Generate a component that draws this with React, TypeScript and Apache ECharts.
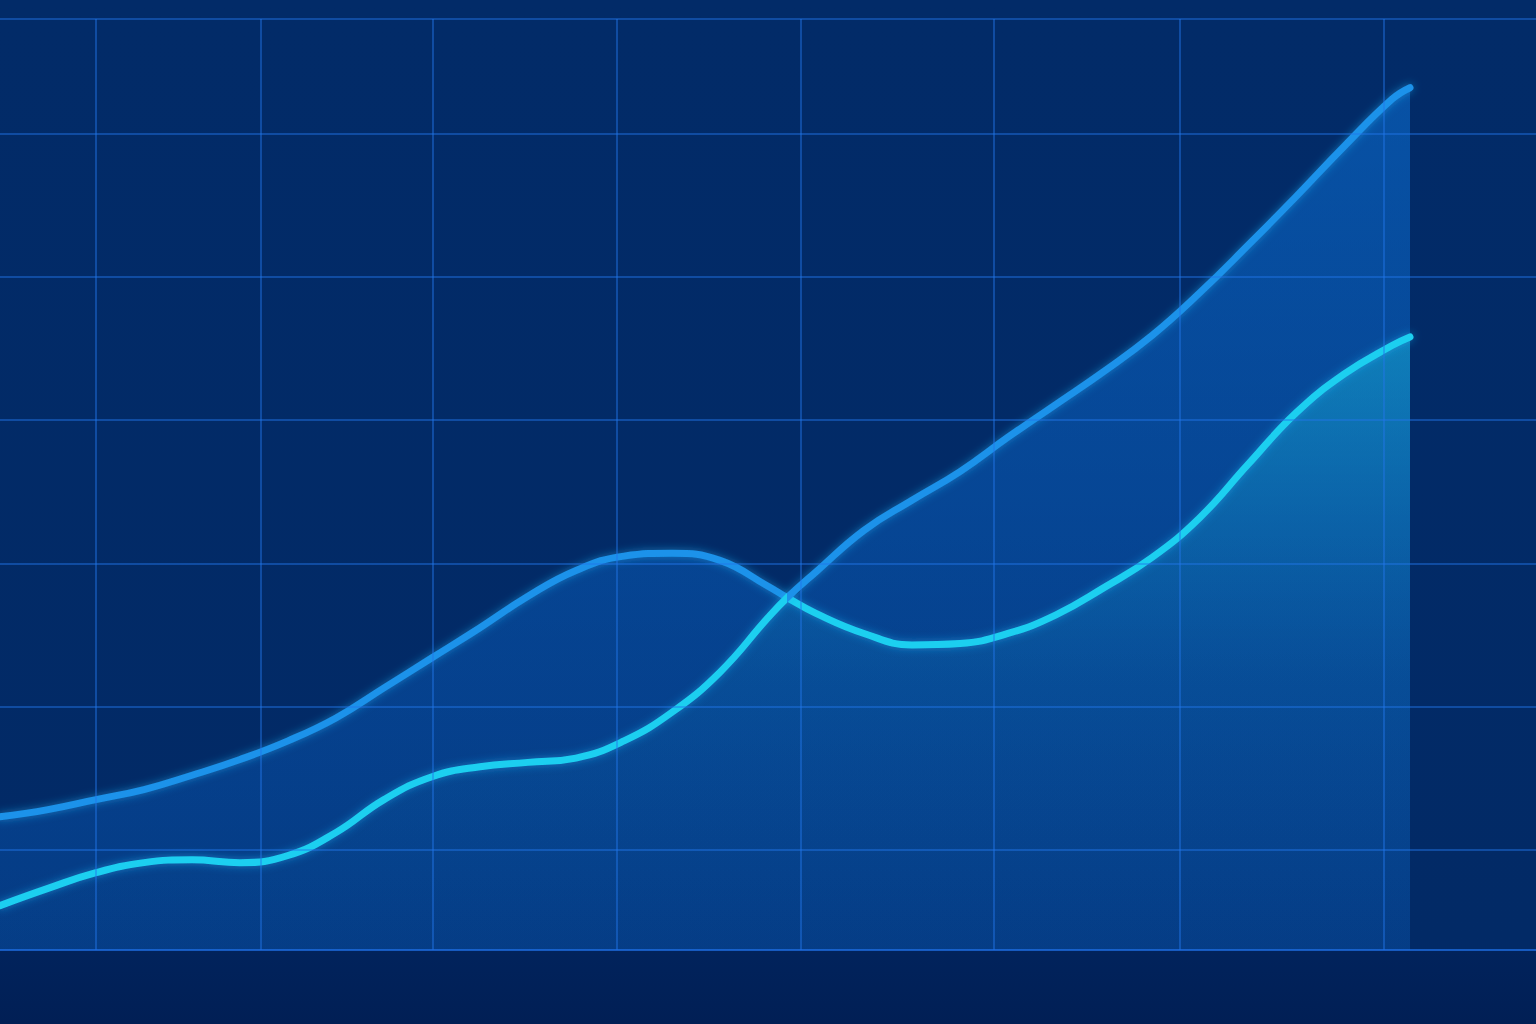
import React, { useEffect, useRef } from 'react';
import * as echarts from 'echarts';

// x positions (weeks) shared by both curves
const weeks = [0, 4, 8, 12, 16, 20, 24, 28, 32, 36, 40, 44, 48, 52, 56, 60, 64, 65.6, 68, 72, 76, 80, 84, 88, 92, 96, 100, 104, 108, 112, 116, 117.5];
// upper envelope (blue fill)
const upperY = [2.3, 2.8, 3.5, 4.2, 5.2, 6.3, 7.6, 9.2, 11.3, 13.4, 15.5, 17.7, 19.5, 20.5, 20.7, 20.2, 18.4, 17.6, 19.4, 22.3, 24.4, 26.4, 28.8, 31.1, 33.4, 35.9, 38.9, 42.2, 45.6, 49.1, 52.4, 53.2];
// lower envelope (cyan fill)
const lowerY = [-3.9, -2.7, -1.6, -0.9, -0.7, -0.9, -0.4, 1.2, 3.5, 5.1, 5.8, 6.1, 6.4, 7.6, 9.6, 12.4, 16.2, 17.6, 16.5, 15.1, 14.3, 14.4, 15.1, 16.4, 18.3, 20.4, 23.2, 26.9, 30.5, 33.2, 35.2, 35.8];
const CROSS = 17; // index where the curves meet

// grid lines
const gridX = [8, 21.7, 36.1, 51.4, 66.75, 82.8, 98.3, 115.3];
const gridY = [0, 10, 20, 30, 40, 50, 58];

const X_MIN = 0;
const X_MAX = 128;
const Y_MIN = -7;
const Y_MAX = 58;

const BLUE = '#1a92ea';
const CYAN = '#1bcff0';

const zip = (xs: number[], ys: number[]) => xs.map((x, i) => [x, ys[i]]);

const App: React.FC = () => {
  const chartRef = useRef<HTMLDivElement>(null);

  useEffect(() => {
    document.body.style.margin = '0';
    if (!chartRef.current) return;
    const chart = echarts.init(chartRef.current, undefined, { renderer: 'svg' });

    const upper = zip(weeks, upperY);
    const lower = zip(weeks, lowerY);
    // the two real curves cross at CROSS
    const hump = [...upper.slice(0, CROSS + 1), ...lower.slice(CROSS + 1)];
    const rise = [...lower.slice(0, CROSS + 1), ...upper.slice(CROSS + 1)];
    const w = chart.getWidth();
    const f = (weeks[CROSS] - X_MIN) / (X_MAX - X_MIN);

    // colour switches where the curves cross
    const splitColor = (a: string, b: string) =>
      new echarts.graphic.LinearGradient(0, 0, w, 0, [
        { offset: 0, color: a },
        { offset: f, color: a },
        { offset: f, color: b },
        { offset: 1, color: b }
      ], true);

    const stroke = (data: number[][], a: string, b: string) => ({
      type: 'line' as const,
      data,
      smooth: 0.45,
      symbol: 'none',
      silent: true,
      z: 3,
      lineStyle: {
        width: 7,
        color: splitColor(a, b),
        cap: 'round' as const,
        shadowColor: 'rgba(30,170,240,0.55)',
        shadowBlur: 8
      }
    });

    const option: echarts.EChartsOption = {
      animation: false,
      backgroundColor: new echarts.graphic.LinearGradient(0, 0, 0, 1, [
        { offset: 0, color: '#022b68' },
        { offset: 0.9277, color: '#022a66' },
        { offset: 0.9277, color: '#01235c' },
        { offset: 1, color: '#011f55' }
      ]),
      grid: { left: 0, right: 0, top: 19, bottom: 74 },
      xAxis: {
        type: 'value',
        min: X_MIN,
        max: X_MAX,
        show: false,
        splitLine: { show: false }
      },
      yAxis: {
        type: 'value',
        min: Y_MIN,
        max: Y_MAX,
        show: false,
        splitLine: { show: false }
      },
      series: [
        // filled areas
        {
          type: 'line',
          data: upper,
          smooth: 0.45,
          symbol: 'none',
          silent: true,
          z: 1,
          lineStyle: { width: 0, opacity: 0 },
          areaStyle: {
            origin: 'start',
            color: new echarts.graphic.LinearGradient(0, 0, 0, 1, [
              { offset: 0, color: 'rgba(14,132,245,0.62)' },
              { offset: 1, color: 'rgba(14,118,236,0.32)' }
            ])
          }
        },
        {
          type: 'line',
          data: lower,
          smooth: 0.45,
          symbol: 'none',
          silent: true,
          z: 1,
          lineStyle: { width: 0, opacity: 0 },
          areaStyle: {
            origin: 'start',
            color: new echarts.graphic.LinearGradient(0, 0, 0, 1, [
              { offset: 0, color: 'rgba(28,205,232,0.58)' },
              { offset: 0.55, color: 'rgba(25,170,225,0.16)' },
              { offset: 1, color: 'rgba(25,140,220,0.03)' }
            ])
          }
        },
        // grid lines
        {
          type: 'line',
          data: [[X_MIN, Y_MIN]],
          symbol: 'none',
          silent: true,
          z: 2,
          lineStyle: { width: 0 },
          markLine: {
            silent: true,
            symbol: ['none', 'none'],
            label: { show: false },
            emphasis: { disabled: true },
            lineStyle: { type: 'solid', color: 'rgba(34,118,235,0.6)', width: 1.5 },
            data: [
              ...gridX.map((v) => ({ xAxis: v })),
              ...gridY.map((v) => ({ yAxis: v })),
              { yAxis: Y_MIN, lineStyle: { color: 'rgba(30,110,225,0.75)', width: 2 } }
            ]
          }
        },
        // strokes
        stroke(hump, BLUE, CYAN),
        stroke(rise, CYAN, BLUE)
      ]
    };

    chart.setOption(option);

    return () => {
      chart.dispose();
    };
  }, []);

  return (
    <div
      ref={chartRef}
      style={{ position: 'absolute', left: 0, top: 0, width: '1536px', height: '1024px' }}
    />
  );
};

export default App;
